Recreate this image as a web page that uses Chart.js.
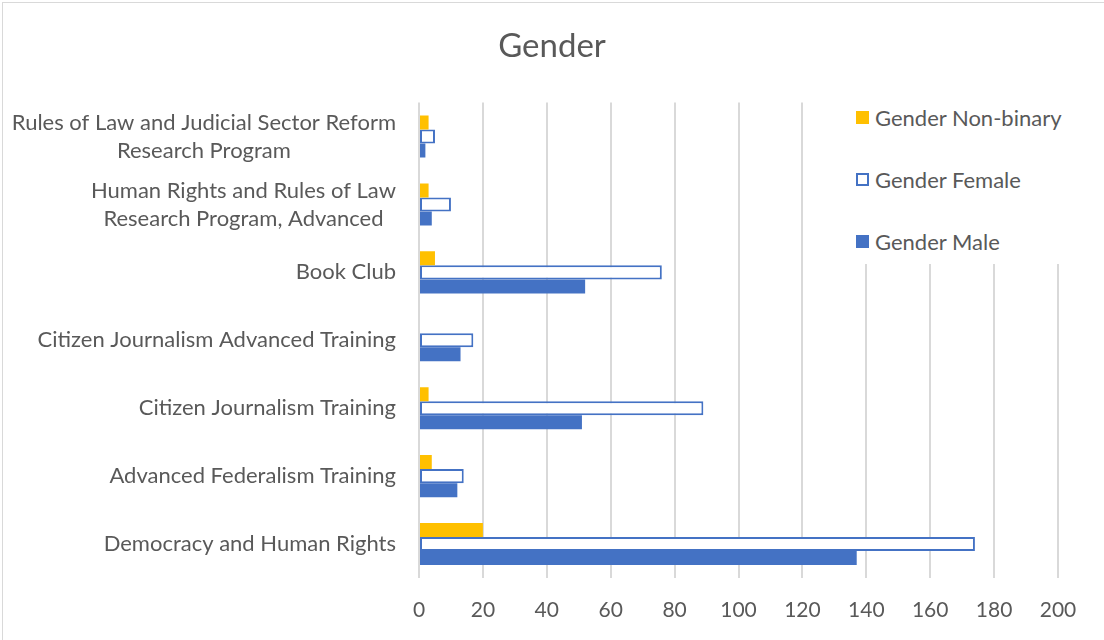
<!DOCTYPE html>
<html>
<head>
<meta charset="utf-8">
<script src="https://cdn.jsdelivr.net/npm/chart.js@4/dist/chart.umd.min.js"></script>
<style>
  html, body { margin: 0; padding: 0; background: #fff; }
  #wrap { position: relative; width: 1104px; height: 640px; overflow: hidden; }
  #frame { position: absolute; left: 2px; top: 2px; width: 1120px; height: 660px; border: 1px solid #d9d9d9; pointer-events: none; }
  #legend { position: absolute; left: 848px; top: 96px; width: 226px; height: 168px; background: #fff; font-family: Lato, sans-serif; font-size: 22px; color: #595959; }
  .li { position: absolute; left: 0; height: 28px; display: flex; align-items: center; white-space: nowrap; }
  .sw { width: 13px; height: 13px; box-sizing: border-box; margin-left: 8px; margin-right: 6px; }
</style>
</head>
<body>
<div id="wrap">
  <canvas id="c" width="1104" height="640"></canvas>
  <div id="legend"></div>
  <div id="frame"></div>
</div>
<script>
const categories = [
  ["Rules of Law and Judicial Sector Reform", "Research Program"],
  ["Human Rights and Rules of Law", "Research Program, Advanced"],
  "Book Club",
  "Citizen Journalism Advanced Training",
  "Citizen Journalism Training",
  "Advanced Federalism Training",
  "Democracy and Human Rights"
];
const seriesNames = ["Gender Non-binary", "Gender Female", "Gender Male"];
const nonBinary = [3, 3, 5, 0, 3, 4, 20];
const female = [5, 10, 76, 17, 89, 14, 174];
const male = [2, 4, 52, 13, 51, 12, 137];
const xTickValues = [0, 20, 40, 60, 80, 100, 120, 140, 160, 180, 200];

const TEXT = '#595959';
const FONT = 'Lato, sans-serif';

const yLabelPlugin = {
  id: 'yLabels',
  afterDraw(chart) {
    const ctx = chart.ctx;
    const scale = chart.scales.y;
    ctx.save();
    ctx.font = '22px ' + FONT;
    ctx.fillStyle = TEXT;
    ctx.textAlign = 'center';
    ctx.textBaseline = 'middle';
    const right = 396, lh = 28;
    chart.data.labels.forEach((lab, i) => {
      const lines = Array.isArray(lab) ? lab : [lab];
      const w = Math.max(...lines.map(l => ctx.measureText(l).width));
      const cx = right - w / 2;
      const cy = scale.getPixelForTick(i);
      lines.forEach((l, j) => {
        ctx.fillText(l, cx, cy + (j - (lines.length - 1) / 2) * lh);
      });
    });
    ctx.restore();
  }
};

const chart = new Chart(document.getElementById('c'), {
  type: 'bar',
  data: {
    labels: categories,
    datasets: [
      { label: seriesNames[0], data: nonBinary, backgroundColor: '#FFC000', borderWidth: 0 },
      { label: seriesNames[1], data: female, backgroundColor: '#ffffff', borderColor: '#4472C4', borderWidth: 2, borderSkipped: false },
      { label: seriesNames[2], data: male, backgroundColor: '#4472C4', borderWidth: 0 }
    ]
  },
  options: {
    indexAxis: 'y',
    responsive: false,
    devicePixelRatio: 1,
    animation: false,
    layout: { padding: { left: 46, right: 46, top: 0, bottom: 0 } },
    datasets: { bar: { categoryPercentage: 0.62, barPercentage: 1 } },
    plugins: {
      legend: { display: false },
      tooltip: { enabled: false },
      title: {
        display: true,
        text: 'Gender',
        color: TEXT,
        font: { family: FONT, size: 33, weight: 'normal' },
        padding: { top: 27, bottom: 36 }
      }
    },
    scales: {
      x: {
        type: 'linear',
        position: 'bottom',
        min: 0,
        max: 200,
        afterBuildTicks(scale) { scale.ticks = xTickValues.map(v => ({ value: v })); },
        afterFit(scale) { scale.height = 62; },
        ticks: { color: TEXT, font: { family: FONT, size: 21 }, padding: 20 },
        grid: { color: '#d9d9d9', lineWidth: 2, drawTicks: false },
        border: { display: false }
      },
      y: {
        afterFit(scale) { scale.width = 373; },
        ticks: { display: false },
        grid: { display: false },
        border: { display: false }
      }
    }
  },
  plugins: [yLabelPlugin]
});

// legend built from datasets
const leg = document.getElementById('legend');
const rowsY = [21, 83, 145];
chart.data.datasets.forEach((ds, i) => {
  const row = document.createElement('div');
  row.className = 'li';
  row.style.top = (rowsY[i] - 14) + 'px';
  const sw = document.createElement('span');
  sw.className = 'sw';
  sw.style.background = ds.backgroundColor;
  if (ds.borderWidth) sw.style.border = ds.borderWidth + 'px solid ' + ds.borderColor;
  const t = document.createElement('span');
  t.textContent = ds.label;
  row.appendChild(sw);
  row.appendChild(t);
  leg.appendChild(row);
});
</script>
</body>
</html>
